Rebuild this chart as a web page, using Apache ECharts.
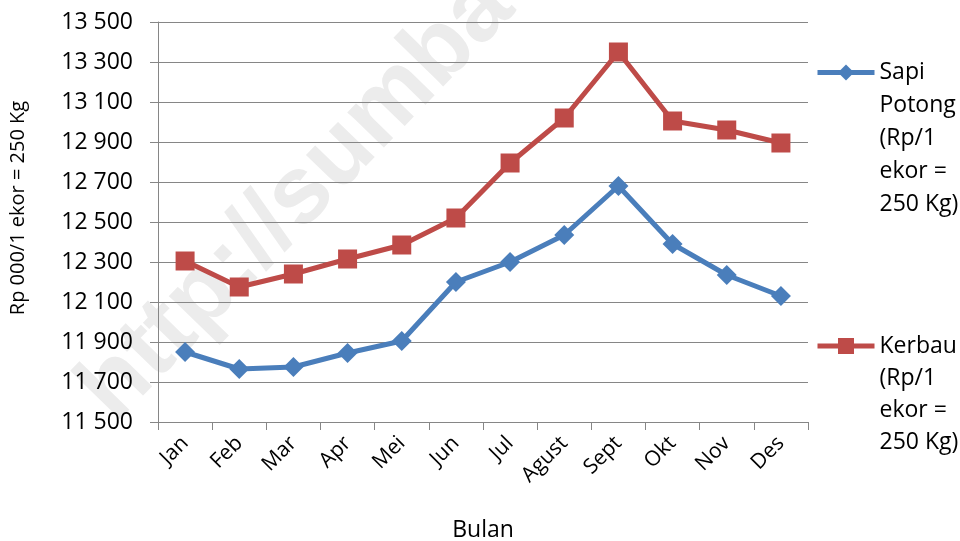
<!DOCTYPE html>
<html>
<head>
<meta charset="utf-8">
<script src="https://cdn.jsdelivr.net/npm/echarts@6/dist/echarts.min.js"></script>
<style>
  html, body { margin: 0; padding: 0; background: #fff; }
  #chart { width: 960px; height: 541px; }
</style>
</head>
<body>
<div id="chart"></div>
<script>
  // data
  var months = ['Jan', 'Feb', 'Mar', 'Apr', 'Mei', 'Jun', 'Jul', 'Agust', 'Sept', 'Okt', 'Nov', 'Des'];
  var sapiPotong = [11850, 11765, 11775, 11845, 11905, 12200, 12300, 12435, 12680, 12390, 12235, 12130];
  var kerbau = [12305, 12175, 12240, 12315, 12385, 12520, 12795, 13020, 13350, 13005, 12960, 12895];
  var sapiName = 'Sapi\nPotong\n(Rp/1\nekor =\n250 Kg)';
  var kerbauName = 'Kerbau\n(Rp/1\nekor =\n250 Kg)';

  var font = 'Open Sans';
  var myChart = echarts.init(document.getElementById('chart'));

  // legend icon sits at the middle of the text block, so pad with empty lines
  // above to keep it level with the first line
  function topAligned(name) {
    var n = name.split('\n').length;
    return new Array(n).join('\n') + name;
  }

  var option = {
    backgroundColor: '#ffffff',
    animation: false,
    grid: {
      left: 158,
      right: 152,
      top: 22,
      bottom: 119,
      outerBoundsMode: 'none'
    },
    graphic: [
      {
        type: 'text',
        z: -10,
        x: 62,
        y: 372,
        rotation: 0.8,
        style: {
          text: 'http://sumba',
          fontFamily: 'Liberation Sans',
          fontWeight: 'bold',
          fontSize: 96,
          fill: '#ececec'
        }
      }
    ],
    legend: [
      {
        data: [sapiName],
        orient: 'vertical',
        left: 810,
        top: 72 - 5 - 148,
        itemWidth: 57,
        itemHeight: 20,
        lineStyle: { width: 5 },
        formatter: topAligned,
        textStyle: { fontFamily: font, fontSize: 23, lineHeight: 33, color: '#000' }
      },
      {
        data: [kerbauName],
        orient: 'vertical',
        left: 810,
        top: 346 - 5 - 112,
        itemWidth: 57,
        itemHeight: 20,
        lineStyle: { width: 5 },
        formatter: topAligned,
        textStyle: { fontFamily: font, fontSize: 23, lineHeight: 32, color: '#000' }
      }
    ],
    xAxis: {
      type: 'category',
      data: months,
      name: 'Bulan',
      nameLocation: 'middle',
      nameGap: 97,
      nameTextStyle: { fontFamily: font, fontSize: 23, color: '#000' },
      axisLine: { lineStyle: { color: '#868686', width: 1 } },
      axisTick: { show: true, length: 8, lineStyle: { color: '#868686' } },
      axisLabel: { rotate: 45, margin: 18, fontFamily: font, fontSize: 21, color: '#000' }
    },
    yAxis: {
      type: 'value',
      min: 11500,
      max: 13500,
      interval: 200,
      name: 'Rp 000/1 ekor = 250 Kg',
      nameLocation: 'middle',
      nameGap: 130,
      nameTextStyle: { fontFamily: font, fontSize: 20, color: '#000', padding: [0, 0, 0, 28] },
      axisLine: { show: true, lineStyle: { color: '#868686', width: 1 } },
      axisTick: { show: true, length: 8, lineStyle: { color: '#868686' } },
      splitLine: { lineStyle: { color: '#868686', width: 1 } },
      axisLabel: {
        margin: 25,
        fontFamily: font,
        fontSize: 23,
        color: '#000',
        formatter: function (v) {
          var s = String(v);
          return s.slice(0, s.length - 3) + ' ' + s.slice(-3);
        }
      }
    },
    series: [
      {
        name: sapiName,
        type: 'line',
        data: sapiPotong,
        symbol: 'diamond',
        symbolSize: 20,
        lineStyle: { color: '#4A7EBB', width: 5 },
        itemStyle: { color: '#4A7EBB' }
      },
      {
        name: kerbauName,
        type: 'line',
        data: kerbau,
        symbol: 'rect',
        symbolSize: 19,
        lineStyle: { color: '#BE4B48', width: 5 },
        itemStyle: { color: '#BE4B48' }
      }
    ]
  };

  myChart.setOption(option);
</script>
</body>
</html>
